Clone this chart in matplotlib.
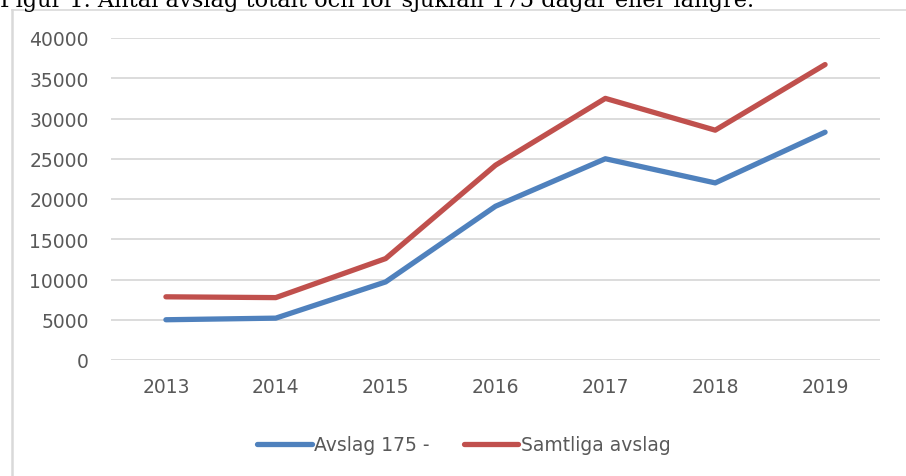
import matplotlib.pyplot as plt
from matplotlib.lines import Line2D

years = ['2013', '2014', '2015', '2016', '2017', '2018', '2019']
avslag_175 = [5000, 5200, 9700, 19100, 25000, 22000, 28300]
samtliga = [7850, 7750, 12600, 24200, 32500, 28550, 36700]
series_labels = ['Avslag 175 -', 'Samtliga avslag']
title = 'Figur 1. Antal avslag totalt och för sjukfall 175 dagar eller längre.'

W, H = 906, 477
fig = plt.figure(figsize=(W / 100, H / 100), dpi=100)
ax = fig.add_axes([111 / W, 1 - 361 / H, (880 - 111) / W, (361 - 39) / H])

x = range(len(years))
ax.plot(x, avslag_175, color='#4f81bd', lw=3.8, solid_capstyle='round',
        solid_joinstyle='round', label=series_labels[0], zorder=3)
ax.plot(x, samtliga, color='#c0504d', lw=3.8, solid_capstyle='round',
        solid_joinstyle='round', label=series_labels[1], zorder=3)

ax.set_xlim(-0.5, len(years) - 0.5)
ax.set_ylim(0, 40000)
ax.set_yticks(range(0, 40001, 5000))
ax.set_xticks(list(x))
ax.set_xticklabels(years)
ax.grid(axis='y', color='#d9d9d9', lw=1.3)
ax.set_axisbelow(True)
for s in ax.spines.values():
    s.set_visible(False)
ax.tick_params(axis='y', length=0, pad=16, labelsize=13.5, colors='#595959')
ax.tick_params(axis='x', length=0, pad=12, labelsize=13.5, colors='#595959')

# chart border (left and top edges visible)
fig.add_artist(Line2D([12 / W, 12 / W], [0, 1 - 11 / H], color='#d9d9d9', lw=1.8))
fig.add_artist(Line2D([12 / W, 1], [1 - 11 / H, 1 - 11 / H], color='#d9d9d9', lw=1.2))

fig.text(0, 1 - 7 / H, title, family='DejaVu Serif', fontsize=16.2,
         va='baseline', ha='left', color='black')

leg = fig.legend(loc='center', bbox_to_anchor=(464 / W, 1 - 446 / H), ncol=2,
                 frameon=False, fontsize=13.5, handlelength=2.9, handletextpad=0.15,
                 columnspacing=1.8, labelcolor='#595959')

fig.savefig('out.png', dpi=100)
